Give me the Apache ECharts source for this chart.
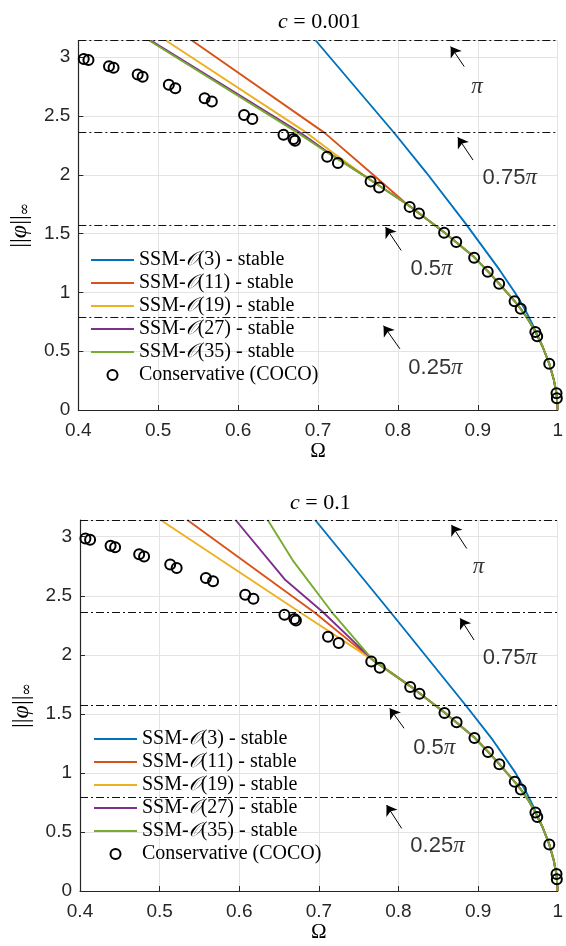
<!DOCTYPE html>
<html><head><meta charset="utf-8">
<script src="https://cdn.jsdelivr.net/npm/echarts@6/dist/echarts.min.js"></script>
<style>html,body{margin:0;padding:0;background:#fff}#c{width:566px;height:946px}</style>
</head><body><div id="c"></div>
<script>
const PI = Math.PI;
const xTicks = [0.4, 0.5, 0.6, 0.7, 0.8, 0.9, 1];
const refLevels = [PI, 0.75 * PI, 0.5 * PI, 0.25 * PI];
const seriesNames = ['SSM-𝒪(3) - stable', 'SSM-𝒪(11) - stable', 'SSM-𝒪(19) - stable', 'SSM-𝒪(27) - stable', 'SSM-𝒪(35) - stable'];
const cocoName = 'Conservative (COCO)';
const colors = ['#0072BD', '#D95319', '#EDB120', '#7E2F8E', '#77AC30'];

// Conservative (COCO) points (same for both panels)
const omegaCoco = [0.4068,0.4127,0.4384,0.4441,0.4743,0.4805,0.5133,0.5214,0.5581,0.5671,0.6075,0.6178,0.6568,0.6693,0.6712,0.7115,0.7249,0.7658,0.7765,0.8147,0.8263,0.8578,0.873,0.8954,0.9124,0.9267,0.946,0.9537,0.972,0.9743,0.9894,0.9985,0.9989];
const ampCoco   = [2.984,2.975,2.923,2.910,2.852,2.833,2.765,2.736,2.650,2.622,2.509,2.475,2.340,2.304,2.290,2.153,2.100,1.943,1.891,1.727,1.670,1.508,1.428,1.295,1.176,1.073,0.925,0.860,0.664,0.627,0.394,0.143,0.100];

// c = 0.001 panel
const omegaO3a  = [0.6971,0.7957,0.8355,0.885,0.927,0.947,0.96,0.968,0.975,0.981,0.9894,0.995,0.9985,1.0];
const ampO3a    = [3.1416,2.353,2.019,1.583,1.193,0.993,0.843,0.735,0.628,0.54,0.395,0.26,0.14,0];
const omegaO11a = [0.5423,0.7083,0.769,0.812,0.8578,0.8954,0.9124,0.9267,0.946,0.9537,0.963,0.972,0.981,0.9894,0.995,0.9985,1.0];
const ampO11a   = [3.1416,2.356,2.0,1.745,1.512,1.30,1.18,1.075,0.925,0.86,0.77,0.665,0.54,0.395,0.26,0.14,0];
const omegaO19a = [0.5097,0.686,0.72,0.7658,0.8147,0.8578,0.8954,0.9124,0.9267,0.946,0.9537,0.963,0.972,0.981,0.9894,0.995,0.9985,1.0];
const ampO19a   = [3.1416,2.356,2.18,1.955,1.735,1.512,1.30,1.18,1.075,0.925,0.86,0.77,0.665,0.54,0.395,0.26,0.14,0];
const omegaO27a = [0.4908,0.678,0.7115,0.7658,0.8147,0.8578,0.8954,0.9124,0.9267,0.946,0.9537,0.963,0.972,0.981,0.9894,0.995,0.9985,1.0];
const ampO27a   = [3.1416,2.356,2.195,1.955,1.735,1.512,1.30,1.18,1.075,0.925,0.86,0.77,0.665,0.54,0.395,0.26,0.14,0];
const omegaO35a = [0.4886,0.6747,0.7115,0.7658,0.8147,0.8578,0.8954,0.9124,0.9267,0.946,0.9537,0.963,0.972,0.981,0.9894,0.995,0.9985,1.0];
const ampO35a   = [3.1416,2.356,2.19,1.955,1.735,1.512,1.30,1.18,1.075,0.925,0.86,0.77,0.665,0.54,0.395,0.26,0.14,0];

// c = 0.1 panel
const omegaO3b  = [0.6954,0.7906,0.8846,0.9184,0.947,0.96,0.968,0.975,0.981,0.9894,0.995,0.9985,1.0];
const ampO3b    = [3.1416,2.356,1.571,1.279,1.0,0.843,0.735,0.628,0.54,0.395,0.26,0.14,0];
const omegaO11b = [0.5348,0.6942,0.768,0.8147,0.8578,0.8954,0.9124,0.9267,0.946,0.9537,0.963,0.972,0.981,0.9894,0.995,0.9985,1.0];
const ampO11b   = [3.1416,2.36,1.955,1.735,1.512,1.30,1.18,1.075,0.925,0.86,0.77,0.665,0.54,0.395,0.26,0.14,0];
const omegaO19b = [0.5013,0.6762,0.768,0.8147,0.8578,0.8954,0.9124,0.9267,0.946,0.9537,0.963,0.972,0.981,0.9894,0.995,0.9985,1.0];
const ampO19b   = [3.1416,2.36,1.955,1.735,1.512,1.30,1.18,1.075,0.925,0.86,0.77,0.665,0.54,0.395,0.26,0.14,0];
const omegaO27b = [0.5954,0.658,0.7053,0.768,0.8147,0.8578,0.8954,0.9124,0.9267,0.946,0.9537,0.963,0.972,0.981,0.9894,0.995,0.9985,1.0];
const ampO27b   = [3.1416,2.633,2.36,1.955,1.735,1.512,1.30,1.18,1.075,0.925,0.86,0.77,0.665,0.54,0.395,0.26,0.14,0];
const omegaO35b = [0.6358,0.6672,0.7165,0.768,0.8147,0.8578,0.8954,0.9124,0.9267,0.946,0.9537,0.963,0.972,0.981,0.9894,0.995,0.9985,1.0];
const ampO35b   = [3.1416,2.80,2.36,1.955,1.735,1.512,1.30,1.18,1.075,0.925,0.86,0.77,0.665,0.54,0.395,0.26,0.14,0];

// annotations: arrows [tailX, tailY, headX, headY], labels [x, y]
const annText = ['π', '0.75π', '0.5π', '0.25π'];
const arrowsA = [[0.883,2.92,0.866,3.09],[0.894,2.125,0.875,2.318],[0.804,1.357,0.7845,1.555],[0.8025,0.52,0.782,0.717]];
const labelPosA = [[0.899,2.75],[0.94,1.97],[0.842,1.20],[0.847,0.36]];
const arrowsB = [[0.8857,2.90,0.8665,3.10],[0.895,2.125,0.8775,2.309],[0.807,1.378,0.789,1.547],[0.804,0.53,0.785,0.728]];
const labelPosB = [[0.9006,2.745],[0.94,1.97],[0.845,1.208],[0.849,0.381]];
const titles = ['0.001', '0.1'];

const zip = (a, b) => a.map((v, i) => [v, b[i]]);
const curvesA = [[omegaO3a, ampO3a],[omegaO11a, ampO11a],[omegaO19a, ampO19a],[omegaO27a, ampO27a],[omegaO35a, ampO35a]];
const curvesB = [[omegaO3b, ampO3b],[omegaO11b, ampO11b],[omegaO19b, ampO19b],[omegaO27b, ampO27b],[omegaO35b, ampO35b]];

const SERIF = 'Liberation Serif';
const SANS = 'Liberation Sans';
const grids = [
  {left: 77.5, top: 40.5, width: 485.5, height: 369.5},
  {left: 80, top: 520, width: 483, height: 371}
];

function xAxisFor(i) {
  return {
    type: 'value', gridIndex: i, min: 0.4, max: 1, interval: 0.1,
    name: 'Ω', nameLocation: 'middle', nameGap: 27,
    nameTextStyle: {fontFamily: SERIF, fontSize: 21, color: '#000'},
    axisLine: {show: true, onZero: false, lineStyle: {color: '#262626', width: 1.2}},
    axisTick: {show: true, inside: true, length: 5, lineStyle: {color: '#262626'}},
    axisLabel: {fontFamily: SANS, fontSize: 19, color: '#262626', margin: 11,
      formatter: v => (Math.abs(v - 1) < 1e-9 ? '1' : v.toFixed(1))},
    splitLine: {show: true, lineStyle: {color: '#e3e3e3', width: 1}}
  };
}
function yAxisFor(i) {
  return {
    type: 'value', gridIndex: i, min: 0, max: PI, interval: 0.5,
    name: '{b|||}{p|φ}{b|||}{s|∞}', nameLocation: 'middle', nameGap: 42, nameRotate: 90,
    nameTextStyle: {color: '#000', rich: {
      b: {fontFamily: SERIF, fontSize: 24, lineHeight: 26, color: '#000'},
      p: {fontFamily: SERIF, fontStyle: 'italic', fontSize: 24, lineHeight: 26, color: '#000'},
      s: {fontFamily: 'DejaVu Serif', fontSize: 15, lineHeight: 26, verticalAlign: 'bottom', color: '#000'}
    }},
    axisLine: {show: true, lineStyle: {color: '#262626', width: 1.2}},
    axisTick: {show: true, inside: true, length: 5, lineStyle: {color: '#262626'}},
    axisLabel: {fontFamily: SANS, fontSize: 19, color: '#262626', margin: 8, showMaxLabel: false,
      formatter: v => String(+v.toFixed(2))},
    splitLine: {show: true, lineStyle: {color: '#e3e3e3', width: 1}}
  };
}

function legendFor(left, top) {
  return {
    left: left, top: top, orient: 'vertical', padding: 0, itemGap: 3,
    itemWidth: 43, itemHeight: 10,
    data: seriesNames.map(n => ({name: n, itemStyle: {opacity: 0}})).concat([{name: cocoName}]),
    selectedMode: false,
    formatter: name => {
      const m = name.match(/^SSM-𝒪\((\d+)\) - stable$/);
      if (m) return '{t|SSM-}{o|𝒪}{t|(' + m[1] + ') - stable}';
      return '{t|' + name + '}';
    },
    textStyle: {color: '#000', fontFamily: SERIF, fontSize: 20, lineHeight: 20, rich: {
      t: {fontFamily: SERIF, fontSize: 20, lineHeight: 20, color: '#000'},
      o: {fontFamily: 'DejaVu Serif', fontStyle: 'italic', fontSize: 19, lineHeight: 20, color: '#000'}
    }}
  };
}

function panelSeries(gi, curves, arrows, labelPos) {
  const out = [];
  curves.forEach((c, k) => {
    const s = {
      name: seriesNames[k], type: 'line', xAxisIndex: gi, yAxisIndex: gi,
      data: zip(c[0], c[1]), symbol: 'none', clip: true, smooth: false,
      lineStyle: {color: colors[k], width: 1.9}, itemStyle: {color: colors[k]},
      animation: false, z: 3
    };
    if (k === 0) {
      s.markLine = {
        silent: true, symbol: ['none', 'none'], animation: false,
        label: {show: false},
        lineStyle: {color: '#111', width: 1, type: [8, 3, 2, 3]},
        data: refLevels.map(v => ({yAxis: v}))
      };
    }
    out.push(s);
  });
  out.push({
    name: cocoName, type: 'scatter', xAxisIndex: gi, yAxisIndex: gi,
    data: zip(omegaCoco, ampCoco), symbol: 'circle', symbolSize: 10,
    itemStyle: {color: 'rgba(0,0,0,0)', borderColor: '#000', borderWidth: 2, opacity: 1},
    animation: false, z: 4
  });
  out.push({
    name: 'annotations' + gi, type: 'scatter', xAxisIndex: gi, yAxisIndex: gi,
    data: labelPos.map((p, i) => [p[0], p[1], annText[i]]),
    symbolSize: 0.1, itemStyle: {color: 'rgba(0,0,0,0)'}, animation: false, silent: true,
    label: {show: true, position: 'inside', color: '#000',
      formatter: p => {
        const t = p.data[2];
        const num = t.replace('π', '');
        return (num ? '{n|' + num + '}' : '') + '{p|π}';
      },
      rich: {
        n: {fontFamily: SANS, fontSize: 22, color: '#000'},
        p: {fontFamily: SERIF, fontStyle: 'italic', fontSize: 23, color: '#000'}
      }
    },
    markLine: {
      silent: true, animation: false, symbol: ['none', 'arrow'], symbolSize: 10,
      label: {show: false},
      lineStyle: {color: '#000', width: 1, type: 'solid'},
      data: arrows.map(a => [{coord: [a[0], a[1]]}, {coord: [a[2], a[3]]}])
    }
  });
  return out;
}

const chart = echarts.init(document.getElementById('c'), null, {renderer: 'canvas'});
chart.setOption({
  backgroundColor: '#fff',
  animation: false,
  title: titles.map((t, i) => ({
    text: '{i|c}{n| = ' + t + '}', left: i === 0 ? 278 : 290, top: i === 0 ? 11 : 492, padding: 0,
    textStyle: {fontWeight: 'normal', rich: {
      i: {fontFamily: SERIF, fontStyle: 'italic', fontWeight: 'normal', fontSize: 22, color: '#000'},
      n: {fontFamily: SERIF, fontWeight: 'normal', fontSize: 22, color: '#000'}
    }}
  })),
  grid: grids,
  xAxis: [xAxisFor(0), xAxisFor(1)],
  yAxis: [yAxisFor(0), yAxisFor(1)],
  legend: [legendFor(90, 250), legendFor(93, 729)],
  series: panelSeries(0, curvesA, arrowsA, labelPosA).concat(panelSeries(1, curvesB, arrowsB, labelPosB))
});
</script>
</body></html>
